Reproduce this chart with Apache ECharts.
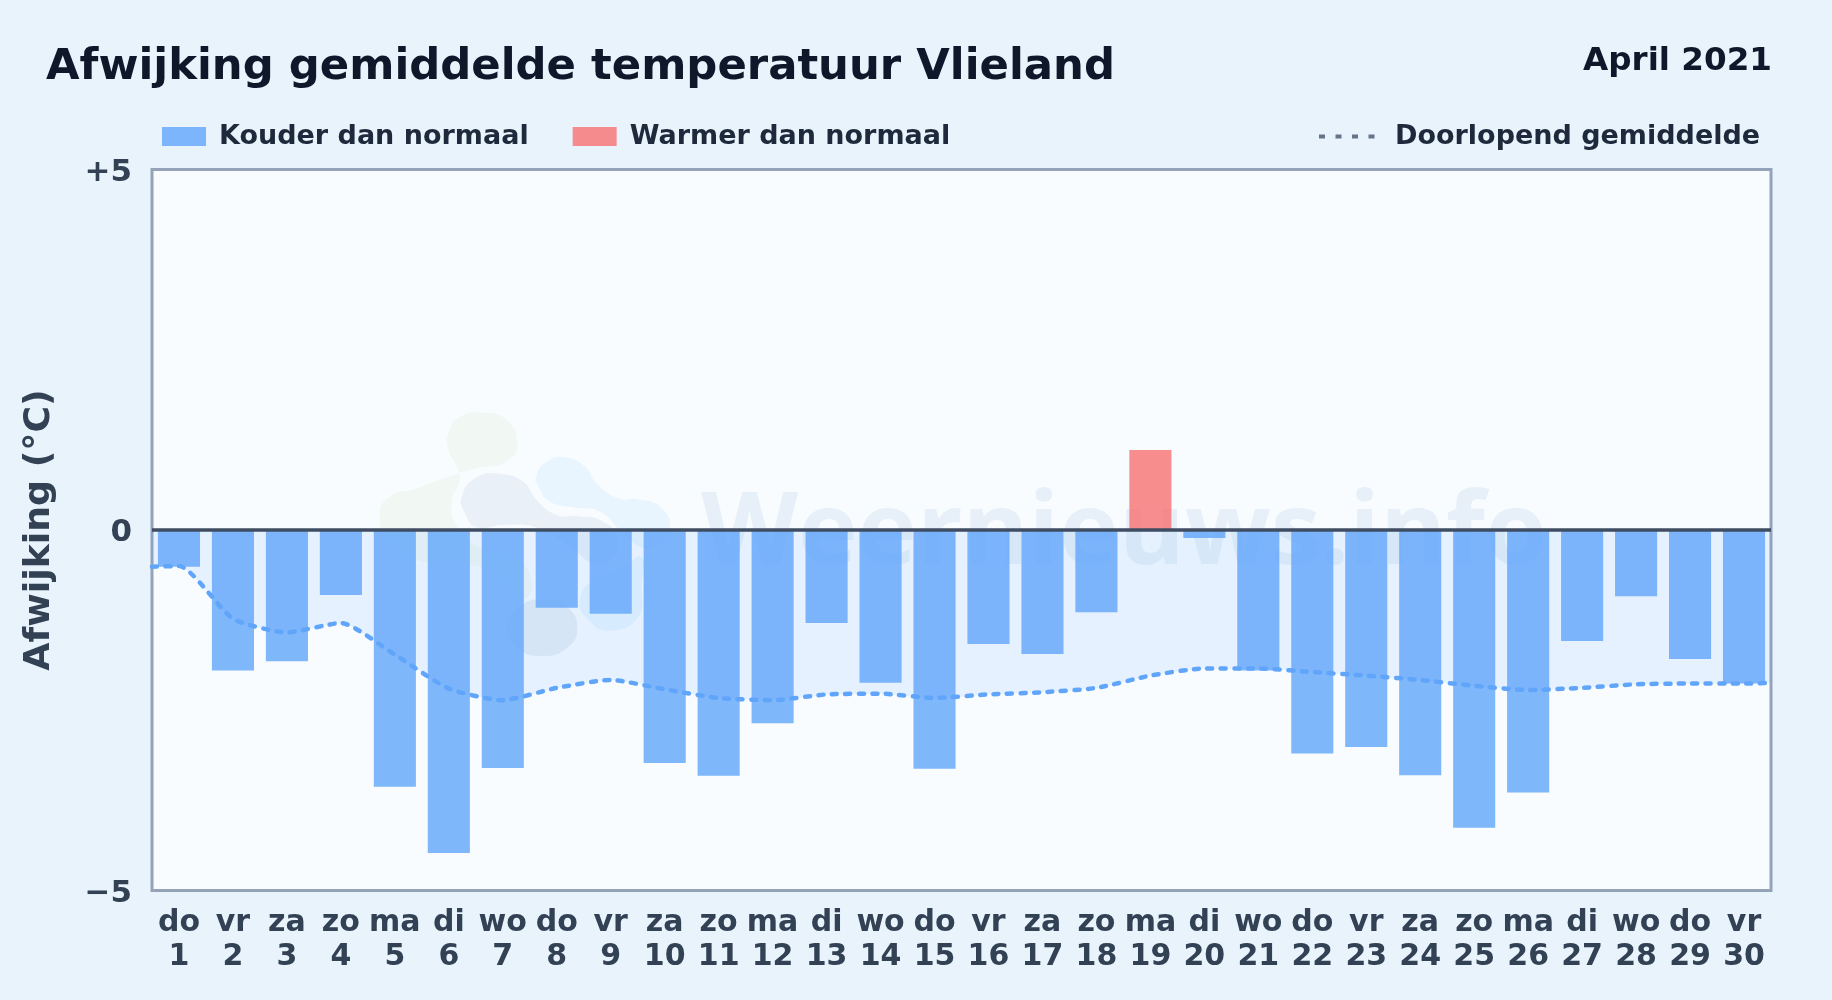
<!DOCTYPE html>
<html><head><meta charset="utf-8">
<style>html,body{margin:0;padding:0;background:#e8f3fc;}#c{width:1832px;height:1000px;}</style>
<script src="https://cdn.jsdelivr.net/npm/echarts@6/dist/echarts.min.js"></script>
</head><body><div id="c"></div>
<script>
var weekdays = ['do','vr','za','zo','ma','di','wo','do','vr','za','zo','ma','di','wo','do','vr','za','zo','ma','di','wo','do','vr','za','zo','ma','di','wo','do','vr'];
var days = [1,2,3,4,5,6,7,8,9,10,11,12,13,14,15,16,17,18,19,20,21,22,23,24,25,26,27,28,29,30];
var deviation = [-0.51,-1.95,-1.82,-0.90,-3.56,-4.48,-3.30,-1.08,-1.16,-3.23,-3.41,-2.68,-1.29,-2.12,-3.31,-1.58,-1.72,-1.14,1.11,-0.11,-1.95,-3.10,-3.01,-3.40,-4.13,-3.64,-1.54,-0.92,-1.79,-2.13];
var runningX = [0.5,1,2,3,4,5,6,7,8,9,10,11,12,13,14,15,16,17,18,19,20,21,22,23,24,25,26,27,28,29,30,30.5];
var runningMean = [-0.51,-0.50,-1.23,-1.42,-1.29,-1.73,-2.20,-2.36,-2.19,-2.08,-2.21,-2.33,-2.36,-2.28,-2.27,-2.33,-2.28,-2.25,-2.19,-2.02,-1.92,-1.92,-1.97,-2.02,-2.08,-2.16,-2.22,-2.19,-2.14,-2.13,-2.13,-2.12];
var yTicks = {'5':'+5','0':'0','-5':'\u22125'};
var FONT = '"DejaVu Sans"';
var cats = days.map(function(d,i){return weekdays[i]+'\n'+d;});
var chart = echarts.init(document.getElementById('c'),null,{renderer:'canvas'});
function legendRich(leftPad){return {color:'#1e293b',fontFamily:FONT,fontWeight:'bold',fontSize:27,rich:{t:{color:'#1e293b',fontFamily:FONT,fontWeight:'bold',fontSize:27,padding:[0,0,0,leftPad]}}};}
function blob(points,fill){return {type:'polygon',z:1,silent:true,x:360,y:400,scaleX:1/3,scaleY:1/3,shape:{points:points,smooth:0.5},style:{fill:fill}};}
chart.setOption({
  animation:false,
  backgroundColor:'#e8f3fc',
  title:[
    {text:'Afwijking gemiddelde temperatuur Vlieland',left:46,top:46,padding:0,textStyle:{fontFamily:FONT,fontWeight:'bold',fontSize:43.35,color:'#0f172a'}},
    {text:'April 2021',right:60,top:45.5,padding:0,textStyle:{fontFamily:FONT,fontWeight:'bold',fontSize:32.6,color:'#0f172a'}}
  ],
  legend:[
    {left:162,top:123,icon:'rect',itemWidth:44,itemHeight:19,itemGap:44,formatter:'{t|{name}}',data:['Kouder dan normaal','Warmer dan normaal'],textStyle:legendRich(8),selectedMode:false,padding:0},
    {left:1317,top:123,itemWidth:56,itemHeight:19,formatter:'{t|{name}}',data:[{name:'Doorlopend gemiddelde',itemStyle:{opacity:0},lineStyle:{color:'#64748b',width:4,type:[6,10.5],cap:'butt'}}],textStyle:legendRich(15),selectedMode:false,padding:0}
  ],
  grid:{left:152,right:61,top:169.5,bottom:109.5,show:true,backgroundColor:'#f8fcff',borderColor:'#94a3b8',borderWidth:3},
  xAxis:[
    {type:'category',data:cats,position:'bottom',axisLine:{show:false},axisTick:{show:false},
     axisLabel:{interval:0,margin:16,color:'#334155',fontFamily:FONT,fontWeight:'bold',fontSize:30,lineHeight:34}},
    {type:'value',min:0.5,max:30.5,show:false}
  ],
  yAxis:{type:'value',min:-5,max:5,interval:5,name:'Afwijking (\u00b0C)',nameLocation:'middle',nameGap:94,nameRotate:90,
    nameTextStyle:{color:'#334155',fontFamily:FONT,fontWeight:'bold',fontSize:36.3},
    axisLine:{show:false},axisTick:{show:false},splitLine:{show:false},
    axisLabel:{margin:20,formatter:function(v){return '{t|'+yTicks[String(v)]+'}';},
      rich:{t:{padding:[6,0,0,0],color:'#334155',fontFamily:FONT,fontWeight:'bold',fontSize:31}}}},
  series:[
    {name:'area',type:'line',xAxisIndex:1,z:1,smooth:0.2,symbol:'none',silent:true,lineStyle:{width:0},
     areaStyle:{origin:0,color:'rgba(96,165,250,0.18)'},
     data:runningX.map(function(x,i){return [x,runningMean[i]];})},
    {name:'Kouder dan normaal',type:'bar',stack:'d',barWidth:'78%',z:2,itemStyle:{color:'rgba(96,165,250,0.8)'},
     data:deviation.map(function(v){return v<0?v:0;})},
    {name:'Warmer dan normaal',type:'bar',stack:'d',barWidth:'78%',z:2,itemStyle:{color:'rgba(248,113,113,0.8)'},
     data:deviation.map(function(v){return v>0?v:0;}),
     markLine:{silent:true,symbol:'none',z:5,label:{show:false},lineStyle:{color:'#3f4d63',width:3.5,type:'solid'},data:[{yAxis:0}]}},
    {name:'Doorlopend gemiddelde',type:'line',xAxisIndex:1,z:3,smooth:0.2,symbol:'none',silent:true,
     lineStyle:{color:'#60a5fa',width:4.5,type:[5,8.5],cap:'round'},
     data:runningX.map(function(x,i){return [x,runningMean[i]];})}
  ],
  graphic:[
    blob([[265,100],[300,50],[375,38],[440,60],[472,130],[440,185],[350,205],[280,225],[170,265],[90,290],[58,345],[90,430],[170,480],[300,490],[400,520],[460,585],[505,590],[510,530],[470,480],[370,450],[295,385],[275,310],[300,235],[285,190],[265,150]],'rgba(170,210,120,0.08)'),
    blob([[305,290],[350,232],[420,222],[490,245],[530,300],[590,345],[650,348],[730,365],[775,420],[750,480],[700,490],[630,440],[530,383],[430,375],[350,382],[315,340]],'rgba(60,100,160,0.08)'),
    blob([[530,225],[565,182],[615,172],[675,200],[710,250],[775,295],[830,298],[900,320],[930,385],[890,435],[850,445],[790,400],[720,335],[640,322],[570,305],[540,270]],'rgba(56,170,250,0.08)'),
    blob([[440,680],[480,620],[545,598],[620,620],[652,685],[620,745],[545,768],[475,745]],'rgba(60,100,160,0.09)'),
    blob([[660,600],[700,540],[780,510],[845,470],[845,560],[835,650],[750,692],[685,660]],'rgba(56,170,250,0.08)'),
    {type:'text',z:1,silent:true,left:701,top:484.5,style:{text:'Weernieuws.info',font:'bold 100.5px "Open Sans"',fill:'rgba(70,125,180,0.09)'}}
  ]
});
</script></body></html>
